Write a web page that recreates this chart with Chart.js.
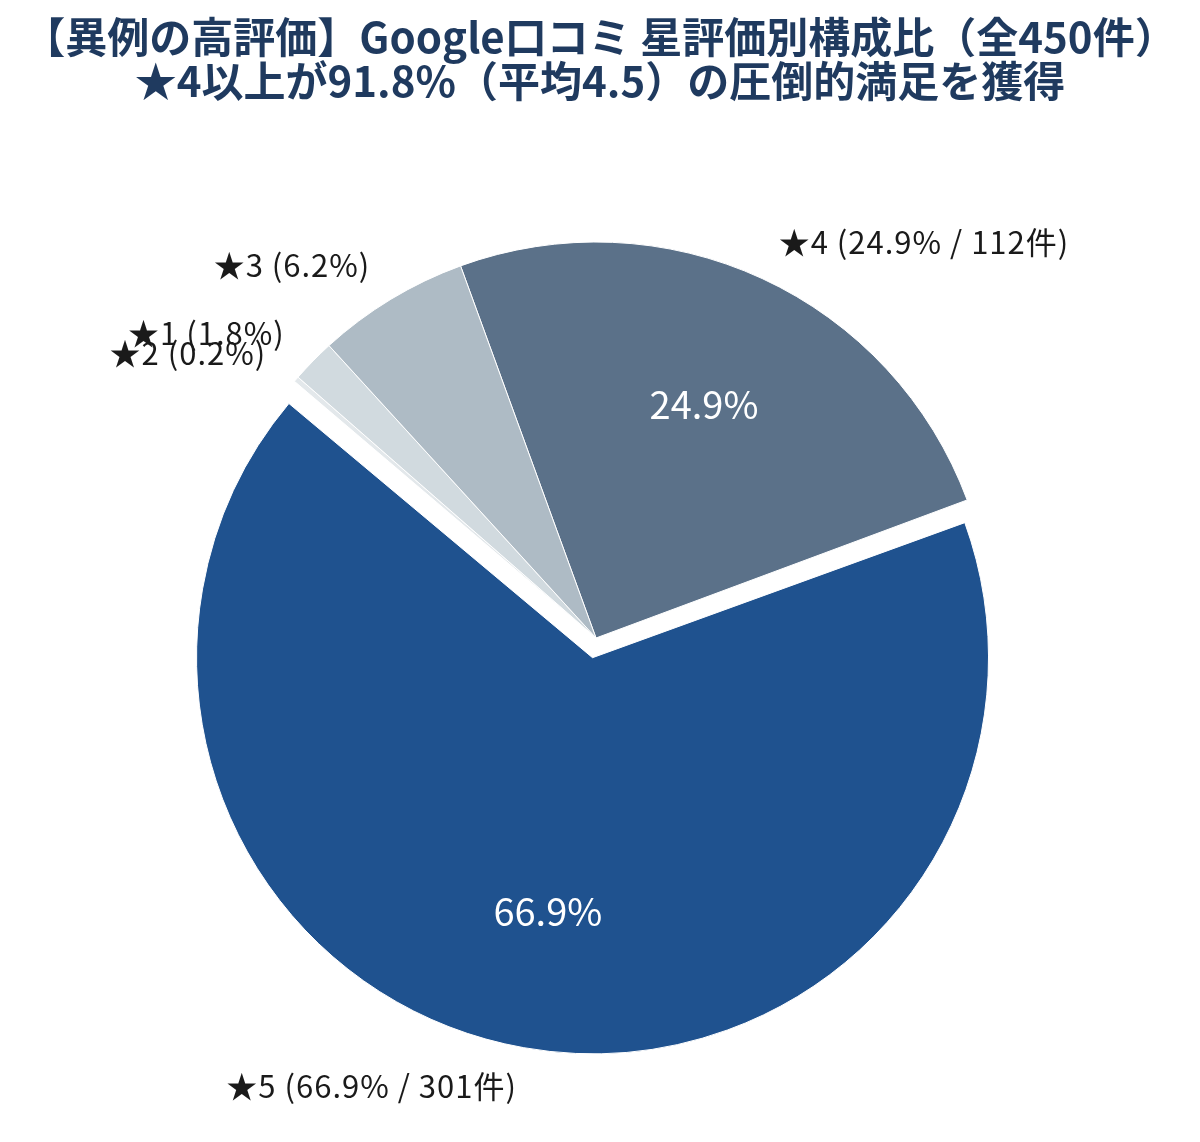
<!DOCTYPE html>
<html lang="ja">
<head>
<meta charset="UTF-8">
<title>Google口コミ 星評価別構成比</title>
<style>
    body {
        margin: 0;
        background: #ffffff;
        font-family: 'Noto Sans CJK JP', 'Noto Sans', sans-serif;
    }

    .wrap {
        position: relative;
        width: 1200px;
        height: 1142px;
    }

    .title {
        position: absolute;
        top: 13px;
        left: 0;
        width: 1200px;
        text-align: center;
        font-size: 42px;
        line-height: 44px;
        font-weight: 700;
        color: #1f3a5f;
    }

    canvas {
        position: absolute;
        top: 0;
        left: 0;
    }
</style>
</head>
<body>
<div class="wrap">
    <canvas id="ratingChart" width="1200" height="1142"></canvas>
    <div class="title">【異例の高評価】Google口コミ 星評価別構成比（全450件）<br>★4以上が91.8%（平均4.5）の圧倒的満足を獲得</div>
</div>

<script src="https://cdn.jsdelivr.net/npm/chart.js"></script>
<script>
    // rating data (slice order as drawn, clockwise)
    const ratingLabels = ['★4', '★5', '★2', '★1', '★3'];
    const reviewCounts = [112, 301, 1, 8, 28];
    const sharePercents = [24.9, 66.9, 0.2, 1.8, 6.2];
    const sliceColors = ['#5b7189', '#1f528f', '#e3e8eb', '#d1dadf', '#aebbc5'];
    // how far each slice is pulled out, in px (Chart.js v4 draws offset / 4)
    const explodePx = [0, 20, 0, 0, 0];

    // Chart.js also grows an exploded arc by its offset; undo that so every slice keeps the same radius
    const keepRadius = {
        id: 'keepRadius',
        afterDatasetUpdate(chart, args) {
            args.meta.data.forEach((arc, i) => {
                const fix = 1 - Math.sin(Math.min(Math.PI, arc.circumference || 0));
                arc.outerRadius -= explodePx[i] * fix;
            });
        }
    };

    // draws outside labels and the big percentage inside large slices
    const sliceLabels = {
        id: 'sliceLabels',
        afterDatasetsDraw(chart) {
            const ctx = chart.ctx;
            const meta = chart.getDatasetMeta(0);
            const baseR = meta.controller.outerRadius;
            ctx.save();
            meta.data.forEach((arc, i) => {
                const p = arc.getProps(['x', 'y', 'startAngle', 'endAngle'], true);
                const mid = (p.startAngle + p.endAngle) / 2;
                const off = explodePx[i];
                const cx = p.x + Math.cos(mid) * off;
                const cy = p.y + Math.sin(mid) * off;
                const pct = sharePercents[i];
                const big = pct > 10;

                // outer label
                let text = ratingLabels[i] + ' (' + pct.toFixed(1) + '%';
                if (big) text += ' / ' + reviewCounts[i] + '件';
                text += ')';
                const r = baseR * 1.1;
                const lx = cx + Math.cos(mid) * r;
                const ly = cy + Math.sin(mid) * r;
                ctx.font = '31px "Noto Sans CJK JP", sans-serif';
                ctx.letterSpacing = '1px';
                ctx.fillStyle = '#1a1a1a';
                ctx.textBaseline = 'middle';
                ctx.textAlign = Math.cos(mid) >= 0 ? 'left' : 'right';
                ctx.fillText(text, lx, ly);

                // inner percentage
                if (big) {
                    const ir = baseR * 0.65;
                    ctx.font = '38px "Noto Sans CJK JP", sans-serif';
                    ctx.letterSpacing = '0px';
                    ctx.fillStyle = '#ffffff';
                    ctx.textAlign = 'center';
                    ctx.fillText(pct.toFixed(1) + '%', cx + Math.cos(mid) * ir, cy + Math.sin(mid) * ir);
                }
            });
            ctx.restore();
        }
    };

    const ctx = document.getElementById('ratingChart').getContext('2d');
    new Chart(ctx, {
        type: 'pie',
        data: {
            labels: ratingLabels,
            datasets: [{
                data: reviewCounts,
                backgroundColor: sliceColors,
                borderColor: '#ffffff',
                borderWidth: 1,
                offset: explodePx.map(v => v * 4)
            }]
        },
        options: {
            responsive: false,
            animation: false,
            rotation: -20,
            radius: 396,
            layout: {
                padding: { top: 231, bottom: 97, left: 0, right: 8 }
            },
            plugins: {
                legend: { display: false },
                tooltip: { enabled: false }
            }
        },
        plugins: [keepRadius, sliceLabels]
    });
</script>
</body>
</html>
